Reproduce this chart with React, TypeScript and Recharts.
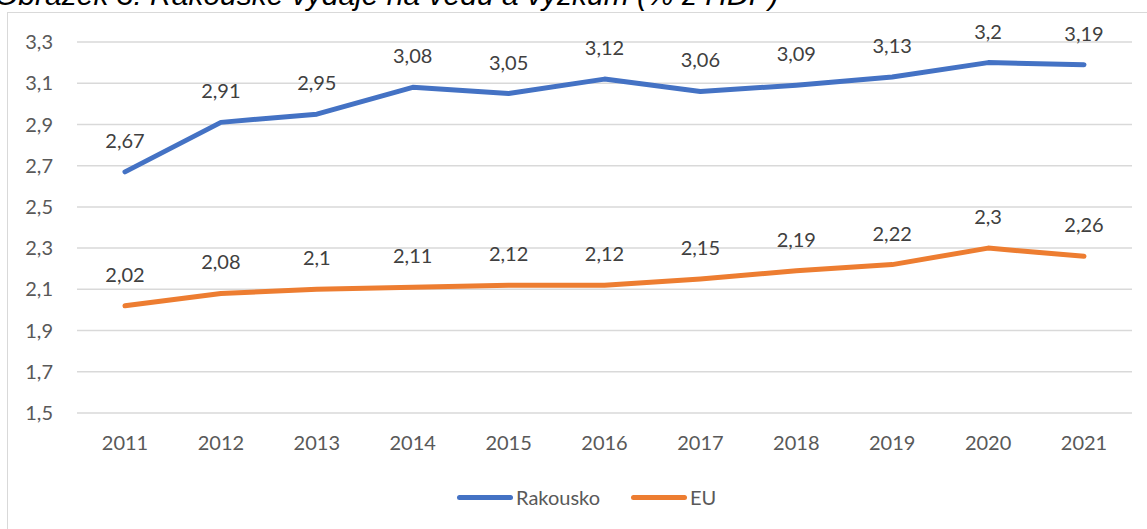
import { LineChart, Line, XAxis, YAxis, CartesianGrid, Legend, LabelList } from "recharts";

const years = ["2011", "2012", "2013", "2014", "2015", "2016", "2017", "2018", "2019", "2020", "2021"];
const rakousko = [2.67, 2.91, 2.95, 3.08, 3.05, 3.12, 3.06, 3.09, 3.13, 3.2, 3.19];
const eu = [2.02, 2.08, 2.1, 2.11, 2.12, 2.12, 2.15, 2.19, 2.22, 2.3, 2.26];
const yTicks = [1.5, 1.7, 1.9, 2.1, 2.3, 2.5, 2.7, 2.9, 3.1, 3.3];

const series = [
  { key: "rakousko", name: "Rakousko", color: "#4472C4" },
  { key: "eu", name: "EU", color: "#ED7D31" },
];

const data = years.map((year, i) => ({ year, rakousko: rakousko[i], eu: eu[i] }));

const FONT = "Lato, 'Open Sans', sans-serif";
const TEXT = "#595959";

const comma = (v: number) => String(v).replace(".", ",");

function ValueLabel(props: any) {
  const { x, y, value } = props;
  return (
    <text x={x} y={y - 24} textAnchor="middle" fill="#404040" fontSize={20} fontFamily={FONT}>
      {comma(value)}
    </text>
  );
}

function LegendContent() {
  return (
    <div style={{ position: "relative", height: 24, fontFamily: FONT, fontSize: 20, color: TEXT }}>
      <div style={{ position: "absolute", left: 457, top: 10, width: 56, height: 5, borderRadius: 3, background: series[0].color }} />
      <span style={{ position: "absolute", left: 516, top: 0, lineHeight: "24px" }}>{series[0].name}</span>
      <div style={{ position: "absolute", left: 631, top: 10, width: 56, height: 5, borderRadius: 3, background: series[1].color }} />
      <span style={{ position: "absolute", left: 690, top: 0, lineHeight: "24px" }}>{series[1].name}</span>
    </div>
  );
}

export default function App() {
  return (
    <div style={{ position: "fixed", left: 0, top: 0, width: 1147, height: 529, background: "#fff", overflow: "hidden" }}>
      {/* caption, clipped at the top of the screenshot */}
      <svg width={1147} height={12} style={{ position: "absolute", left: 0, top: 0 }}>
        <text x={-5} y={5} fontFamily="'Liberation Sans', Arial, sans-serif" fontStyle="italic" fontSize={30} fill="#000">
          Obrázek 3: Rakouské výdaje na vědu a výzkum (% z HDP)
        </text>
      </svg>
      <div style={{ position: "absolute", left: 7, top: 12, width: 1400, height: 800, border: "1.5px solid #d9d9d9" }} />
      <div style={{ position: "absolute", left: 0, top: 0 }}>
        <LineChart width={1147} height={529} data={data} margin={{ top: 42, right: 15, bottom: 0, left: 0 }}>
          <CartesianGrid vertical={false} stroke="#d9d9d9" strokeWidth={1.5} />
          <XAxis
            dataKey="year"
            axisLine={false}
            tickLine={false}
            tickSize={0}
            tickMargin={23}
            height={116}
            padding={{ left: 48, right: 48 }}
            tick={{ fill: TEXT, fontSize: 20, fontFamily: FONT }}
          />
          <YAxis
            domain={[1.5, 3.3]}
            ticks={yTicks}
            width={77}
            axisLine={false}
            tickLine={false}
            tickSize={0}
            tickMargin={24}
            tickFormatter={(v: number) => v.toFixed(1).replace(".", ",")}
            tick={{ fill: TEXT, fontSize: 20, fontFamily: FONT }}
          />
          {series.map((s) => (
            <Line
              key={s.key}
              dataKey={s.key}
              name={s.name}
              type="linear"
              stroke={s.color}
              strokeWidth={5}
              strokeLinecap="round"
              strokeLinejoin="round"
              dot={false}
              activeDot={false}
              isAnimationActive={false}
            >
              <LabelList dataKey={s.key} content={<ValueLabel />} />
            </Line>
          ))}
          <Legend
            layout="horizontal"
            verticalAlign="middle"
            align="center"
            content={<LegendContent />}
            wrapperStyle={{ position: "absolute", left: 0, top: 485, width: 1147, height: 24 }}
          />
        </LineChart>
      </div>
    </div>
  );
}
